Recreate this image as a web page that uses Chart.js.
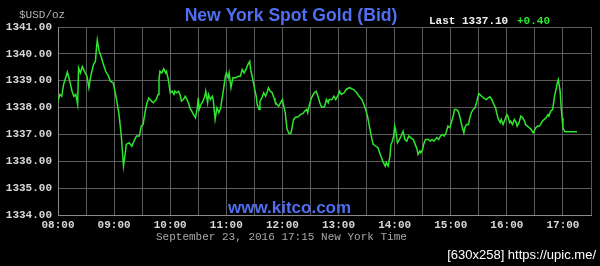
<!DOCTYPE html>
<html>
<head>
<meta charset="utf-8">
<script src="https://cdn.jsdelivr.net/npm/chart.js@4"></script>
<style>
  html, body { margin: 0; padding: 0; background: #000; }
  canvas { display: block; }
</style>
</head>
<body>
<canvas id="gold" width="600" height="266"></canvas>
<script>
// minutes after 08:00 (New York time)
const MINUTES = [
  0, 2, 4, 6, 10, 13, 15, 17, 19, 21, 22, 24, 26, 29, 31, 33, 35, 38, 40, 41,
  42, 44, 46, 48, 51, 54, 56, 59, 62, 65, 67, 68, 69, 70, 72, 73, 76, 79, 82, 84,
  87, 89, 91, 93, 95, 97, 100, 102, 105, 107, 108, 109, 111, 113, 115, 116, 118, 120, 122, 124,
  125, 127, 129, 131, 132, 134, 136, 138, 140, 141, 143, 145, 147, 149, 150, 151, 153, 155, 157, 158,
  160, 161, 163, 165, 166, 168, 170, 172, 174, 175, 177, 179, 180, 182, 183, 185, 187, 190, 193, 195,
  197, 199, 201, 203, 205, 206, 208, 210, 212, 213, 215, 216, 218, 220, 222, 224, 225, 227, 229, 231,
  232, 234, 236, 238, 240, 241, 243, 244, 245, 247, 249, 250, 252, 254, 257, 259, 262, 264, 266, 267,
  269, 271, 274, 276, 278, 280, 282, 285, 287, 289, 290, 293, 295, 297, 300, 301, 303, 306, 308, 309,
  312, 314, 316, 319, 322, 325, 327, 329, 331, 333, 335, 337, 340, 342, 344, 346, 348, 350, 351, 353,
  355, 356, 357, 359, 360, 361, 363, 365, 367, 369, 371, 373, 375, 377, 380, 382, 384, 385, 387, 388,
  390, 391, 393, 396, 398, 400, 402, 405, 407, 409, 411, 413, 415, 417, 419, 421, 423, 424, 426, 428,
  430, 432, 434, 435, 437, 439, 440, 442, 444, 446, 448, 450, 451, 453, 456, 458, 460, 462, 464, 466,
  468, 469, 471, 473, 474, 476, 478, 480, 481, 483, 484, 486, 488, 490, 491, 493, 495, 497, 499, 500,
  502, 504, 506, 508, 509, 511, 513, 515, 516, 518, 520, 522, 524, 525, 527, 529, 531, 533, 534, 535,
  537, 538, 539, 540, 542, 555
];

// bid price, $USD/oz
const PRICES = [
  1338.24, 1338.49, 1338.42, 1338.86, 1339.32, 1338.92, 1338.61, 1338.42, 1338.49, 1338.12,
  1339.48, 1339.29, 1339.52, 1339.29, 1339.17, 1338.74, 1339.17, 1339.60, 1339.72, 1340.16,
  1340.51, 1340.10, 1339.91, 1339.67, 1339.35, 1339.17, 1338.98, 1338.92, 1338.42, 1337.81,
  1337.19, 1336.81, 1336.32, 1335.82, 1336.32, 1336.63, 1336.69, 1336.56, 1336.81, 1336.94,
  1336.94, 1337.31, 1337.37, 1337.80, 1338.15, 1338.36, 1338.24, 1338.18, 1338.30, 1338.49,
  1339.04, 1339.35, 1339.29, 1339.44, 1339.29, 1339.35, 1339.04, 1338.55, 1338.61, 1338.49,
  1338.61, 1338.55, 1338.61, 1338.42, 1338.24, 1338.30, 1338.42, 1338.30, 1338.12, 1337.99,
  1337.87, 1337.74, 1337.62, 1337.99, 1338.36, 1337.93, 1338.12, 1338.24, 1338.42, 1338.61,
  1338.18, 1338.49, 1338.30, 1338.42, 1338.30, 1337.56, 1337.99, 1337.81, 1337.99, 1338.24,
  1338.67, 1339.17, 1339.29, 1339.11, 1339.29, 1338.74, 1339.11, 1339.11, 1339.17, 1339.17,
  1339.42, 1339.29, 1339.42, 1339.60, 1339.72, 1339.42, 1339.11, 1338.74, 1338.42, 1338.12,
  1337.93, 1338.24, 1338.36, 1338.55, 1338.42, 1338.61, 1338.74, 1338.61, 1338.55, 1338.36,
  1338.24, 1338.12, 1338.05, 1338.18, 1338.30, 1338.12, 1337.81, 1337.49, 1337.19, 1337.04,
  1337.03, 1337.19, 1337.56, 1337.64, 1337.66, 1337.74, 1337.78, 1337.87, 1337.93, 1337.81,
  1338.12, 1338.36, 1338.55, 1338.61, 1338.42, 1338.18, 1338.01, 1338.03, 1338.30, 1338.18,
  1338.30, 1338.30, 1338.42, 1338.30, 1338.49, 1338.61, 1338.49, 1338.55, 1338.67, 1338.70,
  1338.74, 1338.70, 1338.67, 1338.57, 1338.42, 1338.30, 1338.12, 1337.93, 1337.68, 1337.31,
  1336.94, 1336.63, 1336.56, 1336.51, 1336.32, 1336.13, 1335.95, 1335.82, 1335.95, 1335.82,
  1336.19, 1336.63, 1336.69, 1336.94, 1337.31, 1337.19, 1336.69, 1336.81, 1336.94, 1337.12,
  1336.81, 1336.75, 1336.94, 1336.88, 1336.81, 1336.63, 1336.45, 1336.26, 1336.38, 1336.32,
  1336.44, 1336.63, 1336.81, 1336.81, 1336.75, 1336.81, 1336.75, 1336.88, 1336.81, 1336.94,
  1337.00, 1336.94, 1337.06, 1337.31, 1337.25, 1337.49, 1337.74, 1337.93, 1337.93, 1337.87,
  1337.62, 1337.31, 1337.06, 1337.25, 1337.37, 1337.37, 1337.56, 1337.81, 1337.93, 1337.99,
  1338.24, 1338.52, 1338.49, 1338.42, 1338.33, 1338.30, 1338.36, 1338.40, 1338.30, 1338.12,
  1337.99, 1337.81, 1337.56, 1337.44, 1337.56, 1337.37, 1337.56, 1337.74, 1337.68, 1337.44,
  1337.49, 1337.37, 1337.56, 1337.44, 1337.31, 1337.44, 1337.68, 1337.62, 1337.49, 1337.37,
  1337.31, 1337.25, 1337.19, 1337.06, 1337.12, 1337.25, 1337.31, 1337.31, 1337.37, 1337.49,
  1337.56, 1337.62, 1337.74, 1337.68, 1337.87, 1337.93, 1338.42, 1338.74, 1338.92, 1339.04,
  1338.61, 1338.05, 1337.62, 1337.25, 1337.10, 1337.10
];

const HOUR_LABELS = ['08:00', '09:00', '10:00', '11:00', '12:00', '13:00', '14:00', '15:00', '16:00', '17:00'];
const Y_MIN = 1334;
const Y_MAX = 1341;
const X_MAX = 570; // 17:30

const LAST_PRICE = '1337.10';
const CHANGE = '+0.40';

const MONO = '"Liberation Mono", "DejaVu Sans Mono", monospace';
const SANS = '"Liberation Sans", Arial, sans-serif';

// ===== Extra texts (title, quote, footer) =====
const kitcoText = {
    id: 'kitcoText',
    beforeDraw(chart) {
        const c = chart.ctx;
        c.save();
        c.fillStyle = '#000';
        c.fillRect(0, 0, chart.width, chart.height);
        c.restore();
    },
    afterDraw(chart) {
        const c = chart.ctx;
        c.save();
        c.textBaseline = 'middle';

        c.font = '11px ' + MONO;
        c.fillStyle = '#b4b4b4';
        c.textAlign = 'left';
        c.fillText('$USD/oz', 19, 15);

        c.font = 'bold 17.6px ' + SANS;
        c.fillStyle = '#4f6ff0';
        c.textAlign = 'center';
        c.fillText('New York Spot Gold (Bid)', 291, 16);

        c.font = 'bold 11px ' + MONO;
        c.textAlign = 'left';
        c.fillStyle = '#f0f0f0';
        c.fillText('Last ' + LAST_PRICE, 429, 21);
        c.fillStyle = '#2ee62e';
        c.fillText(CHANGE, 517, 21);

        c.font = 'bold 17px ' + SANS;
        c.fillStyle = '#4f6ff0';
        c.textAlign = 'left';
        c.fillText('www.kitco.com', 228, 208);

        c.font = '11px ' + MONO;
        c.fillStyle = '#a8a8a8';
        c.fillText('September 23, 2016 17:15 New York Time', 156, 237);

        c.font = '13px ' + SANS;
        c.fillStyle = '#ffffff';
        c.textAlign = 'right';
        c.fillText('[630x258] https://upic.me/', 596, 255);
        c.restore();
    }
};

const points = MINUTES.map((m, i) => ({ x: m, y: PRICES[i] }));

new Chart(document.getElementById('gold'), {
    type: 'line',
    data: {
        datasets: [{
            data: points,
            borderColor: '#2ee62e',
            borderWidth: 1.5,
            pointRadius: 0,
            tension: 0,
            fill: false
        }]
    },
    options: {
        responsive: false,
        animation: false,
        devicePixelRatio: 1,
        layout: { padding: { top: 27, right: 9, left: 0, bottom: 0 } },
        plugins: {
            legend: { display: false },
            tooltip: { enabled: false }
        },
        scales: {
            x: {
                type: 'linear',
                min: 0,
                max: X_MAX,
                afterBuildTicks: (s) => {
                    const t = [];
                    for (let v = 0; v <= X_MAX; v += 30) t.push({ value: v });
                    s.ticks = t;
                },
                afterFit: (s) => { s.height = 51; },
                grid: { color: '#5c5c5c', drawTicks: false },
                border: { color: '#8a8a8a' },
                ticks: {
                    color: '#d8d8d8',
                    font: { family: MONO, size: 11, weight: 'bold' },
                    padding: 4,
                    maxRotation: 0,
                    autoSkip: false,
                    callback: (v) => v % 60 === 0 ? HOUR_LABELS[v / 60] : ''
                }
            },
            y: {
                min: Y_MIN,
                max: Y_MAX,
                afterFit: (s) => { s.width = 58; },
                grid: { color: '#5c5c5c', drawTicks: false },
                border: { color: '#8a8a8a' },
                ticks: {
                    stepSize: 1,
                    color: '#d8d8d8',
                    font: { family: MONO, size: 11, weight: 'bold' },
                    padding: 6,
                    callback: (v) => v.toFixed(2)
                }
            }
        }
    },
    plugins: [kitcoText]
});
</script>
</body>
</html>
